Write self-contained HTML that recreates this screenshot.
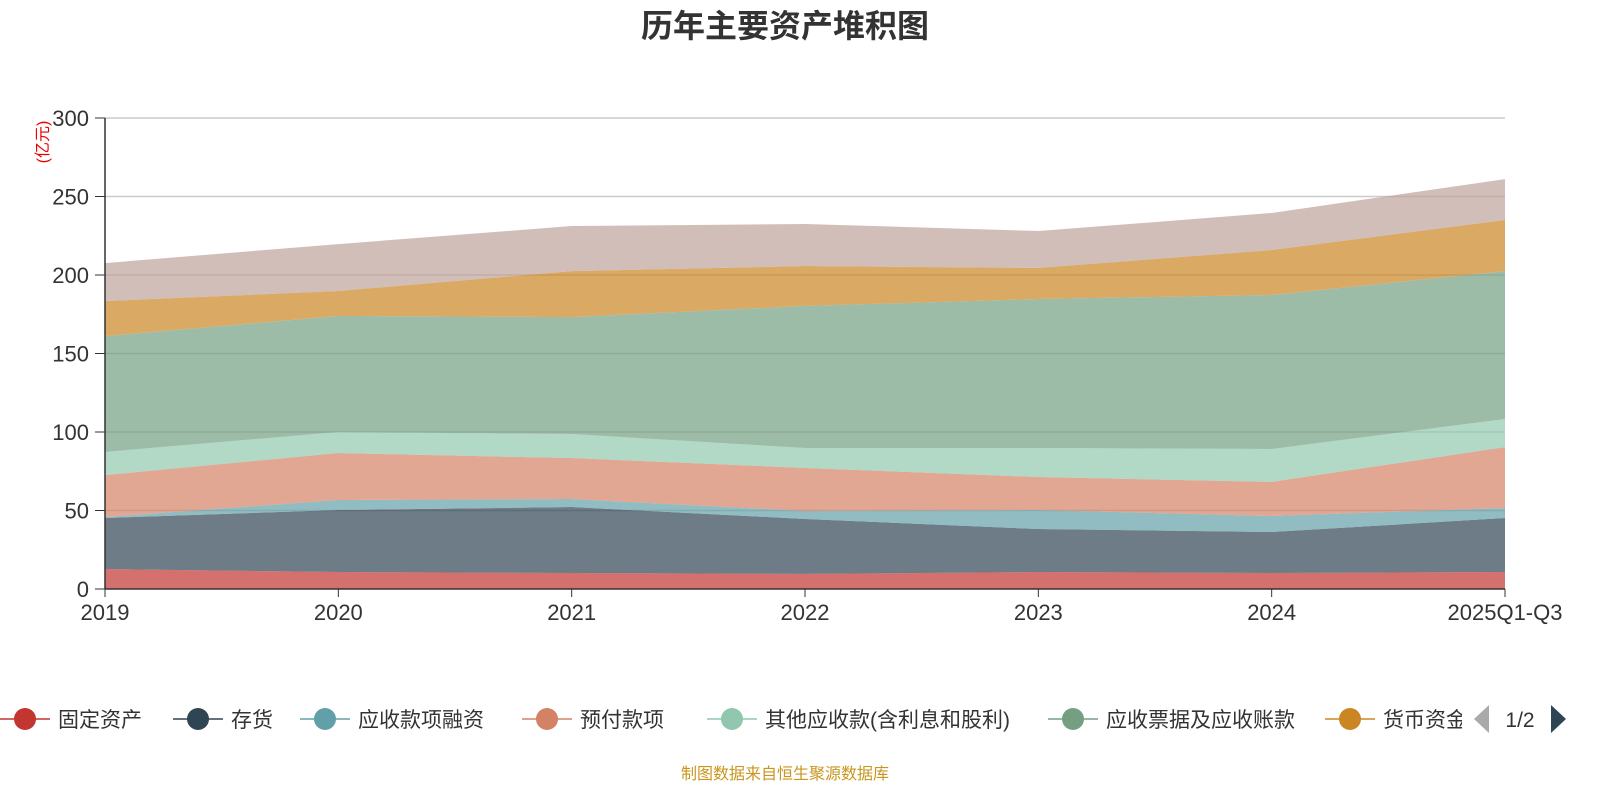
<!DOCTYPE html>
<html><head><meta charset="utf-8"><style>
body{margin:0;background:#fff;}
svg{display:block;font-family:"Liberation Sans","Noto Sans CJK SC",sans-serif;}
</style></head><body>
<svg id="c" width="1600" height="800">
<text x="785" y="37" text-anchor="middle" font-size="32" font-weight="bold" fill="#333">历年主要资产堆积图</text>
<text transform="translate(48,142) rotate(-90)" text-anchor="middle" font-size="16" fill="#e00">(亿元)</text>
<g id="grid"></g><g id="areas"></g><g id="axes"></g><g id="legend"></g>
<text x="785" y="779" text-anchor="middle" font-size="16" fill="#c8961e">制图数据来自恒生聚源数据库</text>
</svg>
<script>
const categories=["2019","2020","2021","2022","2023","2024","2025Q1-Q3"];
const seriesNames=["固定资产","存货","应收款项融资","预付款项","其他应收款(含利息和股利)","应收票据及应收账款","货币资金","交易性金融资产"];
const fixedAssets=[12.7,10.8,10.2,9.6,10.8,10.2,10.8];
const inventory=[32.5,39.5,42.0,35.0,27.4,26.1,34.4];
const receivablesFinancing=[0.7,6.4,5.1,5.1,12.1,10.2,6.4];
const prepayments=[26.7,29.9,26.1,27.4,21.0,21.7,38.8];
const otherReceivables=[14.7,13.4,15.3,12.7,18.5,21.0,17.9];
const notesAccountsReceivable=[73.8,73.9,74.5,90.5,94.9,98.1,94.2];
const monetaryFunds=[22.3,15.9,29.3,25.4,19.8,28.6,32.5];
const tradingAssets=[24.2,29.9,28.7,26.8,23.5,23.6,26.1];
const yTicks=[0,50,100,150,200,250,300];
const seriesData=[fixedAssets,inventory,receivablesFinancing,prepayments,otherReceivables,notesAccountsReceivable,monetaryFunds,tradingAssets];
const colors=["#c23531","#2f4554","#61a0a8","#d48265","#91c7ae","#749f83","#ca8622","#bda29a"];
const X0=105,X1=1505,Y0=589,Y1=118,YMAX=300;
const xs=i=>X0+i*(X1-X0)/(categories.length-1);
const ys=v=>Y0-v*(Y0-Y1)/YMAX;
const NS="http://www.w3.org/2000/svg";
function mk(t,a,p){const e=document.createElementNS(NS,t);for(const k in a)e.setAttribute(k,a[k]);p.appendChild(e);return e;}
const grid=document.getElementById('grid'),areas=document.getElementById('areas'),axes=document.getElementById('axes'),legend=document.getElementById('legend');
yTicks.forEach(v=>{
 if(v>0){const l=mk('line',{x1:X0,x2:X1,y1:ys(v),y2:ys(v),stroke:'#ccc','stroke-width':1.5},grid);
 
 }
 const t=mk('text',{x:89,y:ys(v)+8,'text-anchor':'end','font-size':22,fill:'#333'},axes);t.textContent=v;
 
 
 mk('line',{x1:95,x2:X0,y1:ys(v),y2:ys(v),stroke:'#333'},axes);
});
let base=categories.map(()=>0);
seriesData.forEach((d,s)=>{
 const top=base.map((b,i)=>b+d[i]);
 let pts=top.map((v,i)=>xs(i)+','+ys(v));
 for(let i=categories.length-1;i>=0;i--)pts.push(xs(i)+','+ys(base[i]));
 const p=mk('polygon',{points:pts.join(' '),fill:colors[s],'fill-opacity':0.7},areas);
 
 
 base=top;
});
mk('line',{x1:X0,x2:X0,y1:Y1,y2:Y0,stroke:'#333','stroke-width':1.5},axes);
mk('line',{x1:X0,x2:X1,y1:Y0,y2:Y0,stroke:'#333','stroke-width':1.5},axes);
categories.forEach((c,i)=>{
 mk('line',{x1:xs(i),x2:xs(i),y1:Y0,y2:Y0+8,stroke:'#333'},axes);
 const t=mk('text',{x:xs(i),y:620,'text-anchor':'middle','font-size':22,fill:'#333'},axes);t.textContent=c;
 
 
});
const lx=[0,173,300,522,707,1048,1325];
lx.forEach((x,i)=>{
 const g=mk('g',{},legend);
 
 
 mk('line',{x1:x,x2:x+50,y1:719,y2:719,stroke:colors[i],'stroke-width':1.5},g);
 mk('circle',{cx:x+25,cy:719,r:11,fill:colors[i]},g);
 const t=mk('text',{x:x+58,y:727,'font-size':21,fill:'#333'},g);t.textContent=seriesNames[i];
});
mk('rect',{x:1462,y:700,width:140,height:40,fill:'#fff'},legend);
const pg=mk('g',{},legend);


mk('polygon',{points:'1489,705 1489,733 1474,719',fill:'#aaa'},pg);
const pt=mk('text',{x:1520,y:727,'text-anchor':'middle','font-size':21,fill:'#333'},pg);pt.textContent='1/2';
mk('polygon',{points:'1551,705 1551,733 1566,719',fill:'#2f4554'},pg);
</script>
</body></html>
